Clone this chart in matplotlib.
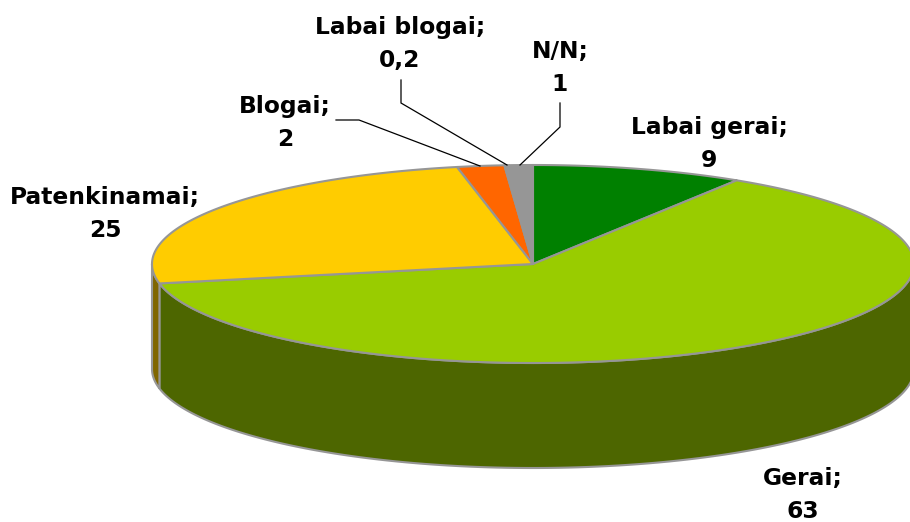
import numpy as np
import matplotlib
matplotlib.use("Agg")
import matplotlib.pyplot as plt
from matplotlib.patches import Polygon

categories = ["Labai gerai", "Gerai", "Patenkinamai", "Blogai", "Labai blogai", "N/N"]
values = [9, 63, 25, 2, 0.2, 1]
value_labels = ["9", "63", "25", "2", "0,2", "1"]
top_colors = ["#008000", "#99CC00", "#FFCC00", "#FF6600", "#969696", "#969696"]
side_colors = ["#004000", "#4D6600", "#806600", "#803300", "#4B4B4B", "#4B4B4B"]
label_pos = [(709, 144), (803, 495), (105, 214), (285, 123), (400, 44), (560, 68)]

CX, CY, RX, RY, DEPTH = 533, 264, 381, 99, 105
EDGE = "#969696"

plt.rcParams["font.family"] = ["DejaVu Sans"]
fig = plt.figure(figsize=(9.1, 5.22), dpi=100)
ax = fig.add_axes([0, 0, 1, 1])
ax.set_xlim(0, 910)
ax.set_ylim(522, 0)
ax.axis("off")


def arc(a, b, dy=0):
    t = np.radians(np.linspace(a, b, max(int(abs(b - a) * 3), 2)))
    return np.column_stack([CX + RX * np.sin(t), CY + dy - RY * np.cos(t)])


total = sum(values)
edges = np.concatenate([[0], np.cumsum(values)]) / total * 360

# side walls
for i in range(len(values)):
    a, b = max(edges[i], 90), min(edges[i + 1], 270)
    if b > a:
        pts = np.vstack([arc(a, b), arc(a, b, DEPTH)[::-1]])
        ax.add_patch(Polygon(pts, closed=True, fc=side_colors[i], ec=EDGE, lw=1.5, zorder=2))

# top face
for i in range(len(values)):
    pts = np.vstack([[[CX, CY]], arc(edges[i], edges[i + 1])])
    ax.add_patch(Polygon(pts, closed=True, fc=top_colors[i], ec=EDGE, lw=1.5,
                         joinstyle="round", zorder=3))

# leader lines
leaders = [
    [(336, 120), (359, 120), (480, 166)],
    [(401, 80), (401, 103), (507, 165)],
    [(560, 103), (560, 127), (520, 165)],
]
for line in leaders:
    xs, ys = zip(*line)
    ax.plot(xs, ys, color="black", lw=0.9, zorder=4, solid_joinstyle="miter")

for name, val, (x, y) in zip(categories, value_labels, label_pos):
    ax.text(x, y, f"{name};\n{val}", ha="center", va="center", fontsize=16.8,
            fontweight="bold", color="black", linespacing=1.6, zorder=5)

fig.savefig("out.png", dpi=100)
